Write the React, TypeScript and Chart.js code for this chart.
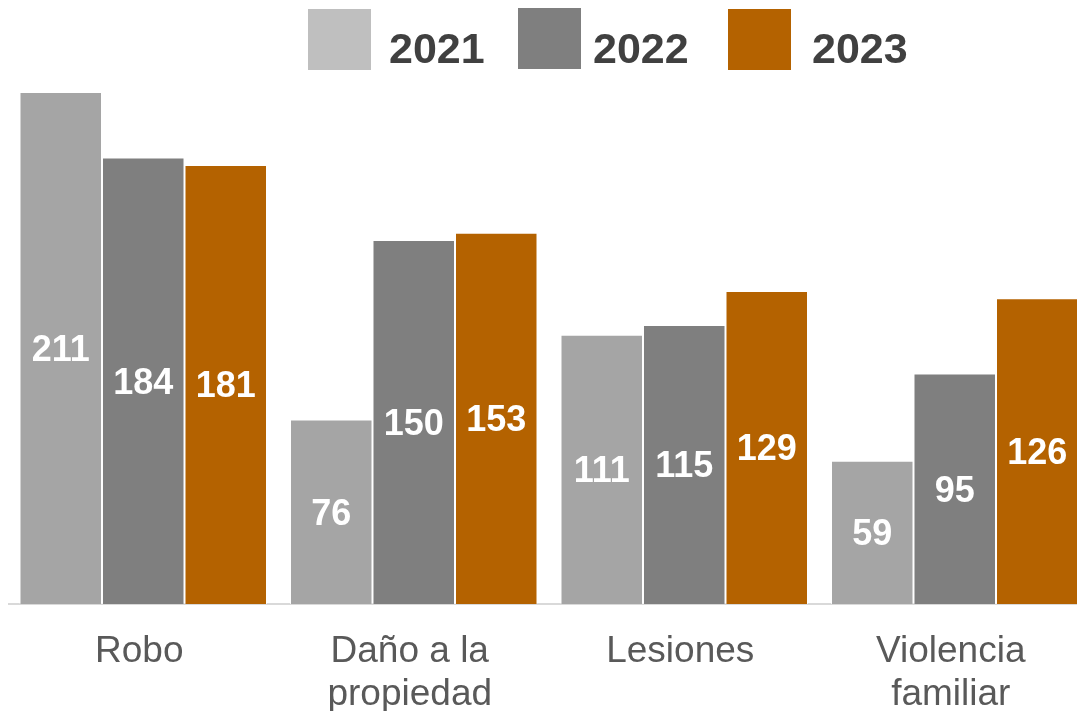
import React, { useEffect, useRef } from "react";
import { Chart, registerables } from "chart.js";

Chart.register(...registerables);

const categories: (string | string[])[] = ["Robo", ["Daño a la", "propiedad"], "Lesiones", ["Violencia", "familiar"]];
const seriesNames = ["2021", "2022", "2023"];
const values2021 = [211, 76, 111, 59];
const values2022 = [184, 150, 115, 95];
const values2023 = [181, 153, 129, 126];
const barColors = ["#A5A5A5", "#7F7F7F", "#B46200"];
const legendColors = ["#BFBFBF", "#7F7F7F", "#B46200"];

const FONT = '"Liberation Sans", Arial, Helvetica, sans-serif';

const valueLabels = {
  id: "valueLabels",
  afterDatasetsDraw(chart: any) {
    const ctx = chart.ctx;
    ctx.save();
    ctx.font = `bold 36px ${FONT}`;
    ctx.fillStyle = "#FFFFFF";
    ctx.textAlign = "center";
    ctx.textBaseline = "middle";
    chart.data.datasets.forEach((ds: any, i: number) => {
      const meta = chart.getDatasetMeta(i);
      meta.data.forEach((bar: any, j: number) => {
        const cy = (bar.y + bar.base) / 2 + 3;
        ctx.fillText(String(ds.data[j]), bar.x, cy);
      });
    });
    ctx.restore();
  },
};

const legendBoxes = [
  { bx: 300, by: 1, tx: 381 },
  { bx: 510, by: 0, tx: 585 },
  { bx: 720, by: 1, tx: 804 },
];

const customLegend = {
  id: "customLegend",
  afterDraw(chart: any) {
    const ctx = chart.ctx;
    ctx.save();
    ctx.font = `bold 43px ${FONT}`;
    ctx.textAlign = "left";
    ctx.textBaseline = "alphabetic";
    seriesNames.forEach((name, i) => {
      const p = legendBoxes[i];
      ctx.fillStyle = legendColors[i];
      ctx.fillRect(p.bx, p.by, 63, 61);
      ctx.fillStyle = "#404040";
      ctx.fillText(name, p.tx, 55);
    });
    ctx.restore();
  },
};

export default function App() {
  const ref = useRef<HTMLCanvasElement | null>(null);
  useEffect(() => {
    if (!ref.current) return;
    const chart = new Chart(ref.current, {
      type: "bar",
      data: {
        labels: categories as any,
        datasets: [values2021, values2022, values2023].map((d, i) => ({
          label: seriesNames[i],
          data: d,
          backgroundColor: barColors[i],
          borderColor: "rgba(255,255,255,0.75)",
          borderWidth: 1,
          categoryPercentage: 0.915,
          barPercentage: 1,
        })),
      },
      options: {
        responsive: false,
        animation: false,
        layout: { padding: { top: 38, left: 0, right: 0, bottom: 0 } },
        plugins: { legend: { display: false }, tooltip: { enabled: false } },
        scales: {
          x: {
            grid: { display: false, drawTicks: false },
            border: { display: true, color: "#D9D9D9", width: 2 },
            ticks: {
              color: "#595959",
              font: { family: FONT, size: 37, lineHeight: 1.16 },
              padding: 26,
              labelOffset: -4,
              maxRotation: 0,
              autoSkip: false,
            },
            afterFit: (scale: any) => {
              scale.height = 107;
            },
          },
          y: {
            display: false,
            min: 0,
            max: 230,
          },
        },
      },
      plugins: [valueLabels, customLegend],
    });
    return () => chart.destroy();
  }, []);
  return (
    <div style={{ position: "absolute", left: 8, top: 8, width: 1069, height: 703, overflow: "hidden" }}>
      <canvas ref={ref} width={1082} height={703} style={{ display: "block" }} />
    </div>
  );
}
